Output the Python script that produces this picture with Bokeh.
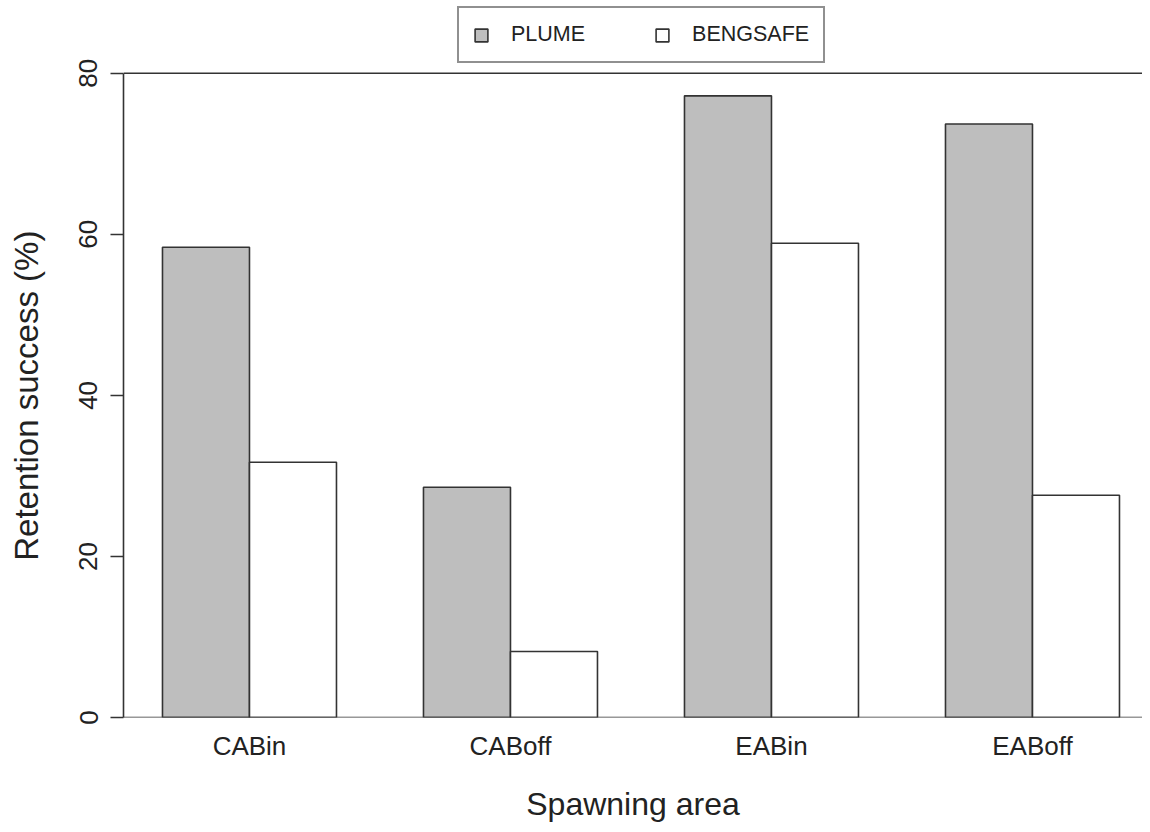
from bokeh.plotting import figure
from bokeh.models import ColumnDataSource, FixedTicker, Span, Legend, LegendItem, Range1d
from bokeh.embed import file_html
from bokeh.resources import INLINE

# ---- data ----
categories = ["CABin", "CABoff", "EABin", "EABoff"]
plume = [58.4, 28.6, 77.2, 73.7]
bengsafe = [31.7, 8.2, 58.9, 27.6]
series_names = ["PLUME", "BENGSAFE"]
y_ticks = [0, 20, 40, 60, 80]
y_max = 80

FONT = "Liberation Sans"
LINE = "#333333"
TEXT = "#222222"

# R barplot(beside=TRUE) layout: bar width 1, one unit gap before each group
group_centers = [2 + 3 * i for i in range(len(categories))]
x_plume = [c - 0.5 for c in group_centers]
x_beng = [c + 0.5 for c in group_centers]

src_p = ColumnDataSource(dict(x=x_plume, top=plume))
src_b = ColumnDataSource(dict(x=x_beng, top=bengsafe))

W, H = 1142, 824
FRAME_BOTTOM = 719   # pixel of y=0
TOP80 = 73           # pixel of y=80
y_end = y_max * FRAME_BOTTOM / (FRAME_BOTTOM - TOP80)

p = figure(width=W, height=H, output_backend="svg", toolbar_location=None,
           x_range=Range1d(0.552, 0.552 + (W - 123) / 87.0), y_range=Range1d(0, y_end),
           min_border_left=123, min_border_right=0, min_border_top=0,
           min_border_bottom=H - FRAME_BOTTOM)
p.outline_line_color = None
p.grid.visible = False
p.background_fill_color = "white"
p.border_fill_color = "white"

r1 = p.vbar(x="x", top="top", width=1.0, bottom=0, source=src_p,
            fill_color="#bebebe", line_color=LINE, line_width=1.6)
r2 = p.vbar(x="x", top="top", width=1.0, bottom=0, source=src_b,
            fill_color="white", line_color=LINE, line_width=1.6)

# frame lines at bottom (0) and top (80)
for yv in (0, y_max):
    p.add_layout(Span(location=yv, dimension="width", line_color=LINE, line_width=1.6))

# x axis
xa = p.xaxis[0]
xa.ticker = FixedTicker(ticks=group_centers)
xa.major_label_overrides = {c: lab for c, lab in zip(group_centers, categories)}
xa.axis_line_color = None
xa.major_tick_line_color = None
xa.minor_tick_line_color = None
xa.major_tick_out = 0
xa.major_label_standoff = 13
xa.major_label_text_font = FONT
xa.major_label_text_font_size = "26px"
xa.major_label_text_color = TEXT
xa.axis_label = "Spawning area"
xa.axis_label_text_font = FONT
xa.axis_label_text_font_size = "32px"
xa.axis_label_text_font_style = "normal"
xa.axis_label_text_color = TEXT
xa.axis_label_standoff = 22

# y axis (label padded with non-breaking spaces so it is centred on 0..80)
ya = p.yaxis[0]
ya.bounds = (0, y_max)
ya.ticker = FixedTicker(ticks=y_ticks)
ya.axis_line_color = LINE
ya.axis_line_width = 1.6
ya.major_tick_line_color = LINE
ya.major_tick_line_width = 1.6
ya.major_tick_out = 13
ya.major_tick_in = 0
ya.minor_tick_line_color = None
ya.major_label_orientation = "vertical"
ya.major_label_standoff = 13
ya.major_label_text_font = FONT
ya.major_label_text_font_size = "26px"
ya.major_label_text_color = TEXT
ya.axis_label = "Retention success (%)" + "\u00a0" * 8
ya.axis_label_text_font = FONT
ya.axis_label_text_font_size = "33px"
ya.axis_label_text_font_style = "normal"
ya.axis_label_text_color = TEXT
ya.axis_label_standoff = 32

legend = Legend(items=[LegendItem(label=series_names[0], renderers=[r1]),
                       LegendItem(label=series_names[1], renderers=[r2])],
                orientation="horizontal", location=(334, FRAME_BOTTOM - 7 - 58),
                glyph_width=16, glyph_height=16, label_standoff=22, spacing=69,
                padding=14, margin=0, label_height=24,
                label_text_font=FONT, label_text_font_size="21.5px", label_text_color=TEXT,
                border_line_color="#222222", border_line_width=2,
                background_fill_color="white", background_fill_alpha=1.0)
p.add_layout(legend)

open("out.html", "w").write(file_html(p, INLINE))
